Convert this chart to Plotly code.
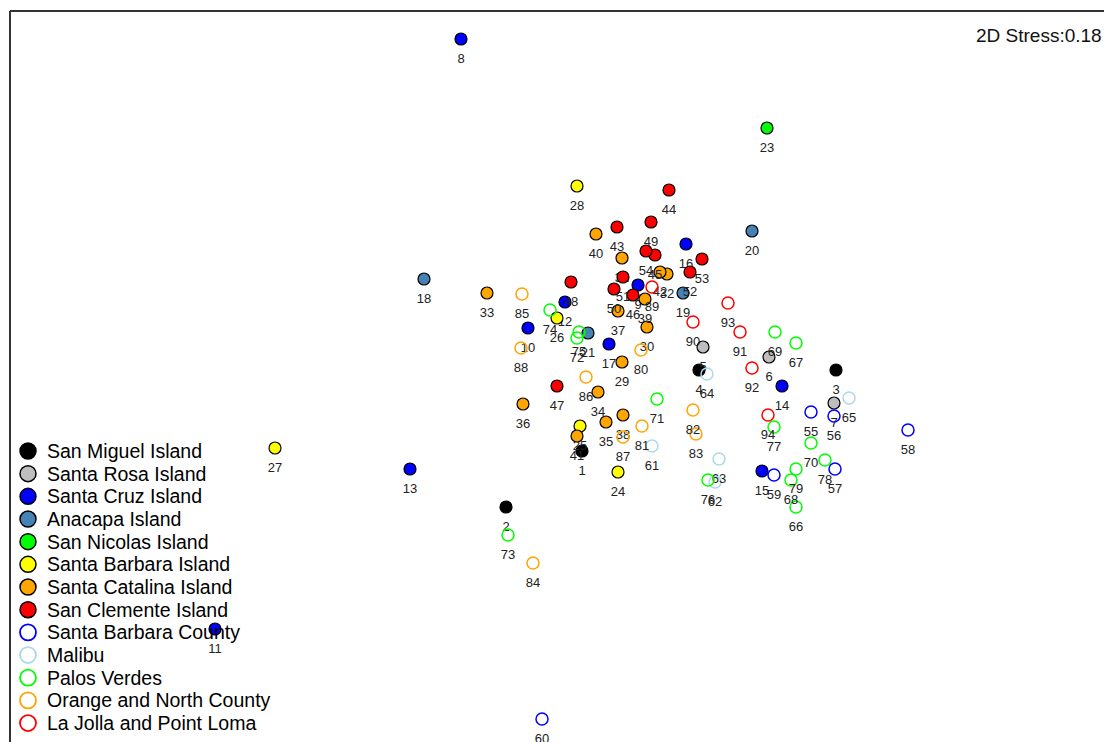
import plotly.graph_objects as go

# NMDS ordination of sampling sites (ordination coordinates, axis 2 increasing downward)
san_miguel_lbl = [1, 2, 3, 4]
san_miguel_x = [582, 506, 836, 699]
san_miguel_y = [451, 507, 370, 370]

santa_rosa_lbl = [5, 6, 7]
santa_rosa_x = [703, 769, 834]
santa_rosa_y = [347, 357, 403]

santa_cruz_lbl = [8, 9, 10, 11, 12, 13, 14, 15, 16, 17]
santa_cruz_x = [461, 638, 528, 215, 565, 410, 782, 762, 686, 609]
santa_cruz_y = [39, 285, 328, 629, 302, 469, 386, 471, 244, 344]

anacapa_lbl = [18, 19, 20, 21]
anacapa_x = [424, 683, 752, 588]
anacapa_y = [279, 293, 231, 333]

san_nicolas_lbl = [23]
san_nicolas_x = [767]
san_nicolas_y = [128]

sb_island_lbl = [24, 25, 26, 27, 28]
sb_island_x = [618, 580, 557, 275, 577]
sb_island_y = [472, 426, 318, 448, 186]

catalina_lbl = [29, 30, 31, 32, 33, 34, 35, 36, 37, 38, 39, 40, 41, 42]
catalina_x = [622, 647, 622, 667, 487, 598, 606, 523, 618, 623, 645, 596, 577, 660]
catalina_y = [362, 327, 258, 274, 293, 392, 422, 404, 311, 415, 299, 234, 436, 272]

clemente_lbl = [43, 44, 45, 46, 47, 48, 49, 50, 51, 52, 53, 54]
clemente_x = [617, 669, 655, 633, 557, 571, 651, 614, 623, 690, 702, 646]
clemente_y = [227, 190, 255, 295, 386, 282, 222, 289, 277, 272, 259, 251]

sb_county_lbl = [55, 56, 57, 58, 59, 60]
sb_county_x = [811, 834, 835, 908, 774, 542]
sb_county_y = [412, 416, 469, 430, 475, 719]

malibu_lbl = [61, 62, 63, 64, 65]
malibu_x = [652, 715, 719, 707, 849]
malibu_y = [446, 482, 459, 374, 398]

palos_lbl = [66, 67, 68, 69, 70, 71, 72, 73, 74, 75, 76, 77, 78, 79]
palos_x = [796, 796, 791, 775, 811, 657, 577, 508, 550, 579, 708, 774, 825, 796]
palos_y = [507, 343, 480, 332, 443, 399, 338, 535, 310, 332, 480, 427, 460, 469]

orange_nc_lbl = [80, 81, 82, 83, 84, 85, 86, 87, 88]
orange_nc_x = [641, 642, 693, 696, 533, 522, 586, 623, 521]
orange_nc_y = [350, 426, 410, 434, 563, 294, 377, 437, 348]

lajolla_lbl = [89, 90, 91, 92, 93, 94]
lajolla_x = [652, 693, 740, 752, 728, 768]
lajolla_y = [287, 322, 332, 368, 303, 415]

groups = [
    ("San Miguel Island", san_miguel_lbl, san_miguel_x, san_miguel_y, "#000000", True),
    ("Santa Rosa Island", santa_rosa_lbl, santa_rosa_x, santa_rosa_y, "#BEBEBE", True),
    ("Santa Cruz Island", santa_cruz_lbl, santa_cruz_x, santa_cruz_y, "#0000FF", True),
    ("Anacapa Island", anacapa_lbl, anacapa_x, anacapa_y, "#4682B4", True),
    ("San Nicolas Island", san_nicolas_lbl, san_nicolas_x, san_nicolas_y, "#00FF00", True),
    ("Santa Barbara Island", sb_island_lbl, sb_island_x, sb_island_y, "#FFFF00", True),
    ("Santa Catalina Island", catalina_lbl, catalina_x, catalina_y, "#FFA500", True),
    ("San Clemente Island", clemente_lbl, clemente_x, clemente_y, "#FF0000", True),
    ("Santa Barbara County", sb_county_lbl, sb_county_x, sb_county_y, "#0000FF", False),
    ("Malibu", malibu_lbl, malibu_x, malibu_y, "#ADD8E6", False),
    ("Palos Verdes", palos_lbl, palos_x, palos_y, "#00FF00", False),
    ("Orange and North County", orange_nc_lbl, orange_nc_x, orange_nc_y, "#FFA500", False),
    ("La Jolla and Point Loma", lajolla_lbl, lajolla_x, lajolla_y, "#FF0000", False),
]

FONT = "Arial, Liberation Sans, sans-serif"
W, H = 1104, 742

fig = go.Figure()

for name, lbl, xs, ys, col, filled in groups:
    if filled:
        mk = dict(symbol="circle", size=12, color=col, line=dict(color="#000000", width=1.2))
    else:
        mk = dict(symbol="circle-open", size=12, color=col, line=dict(width=1.5))
    fig.add_trace(go.Scatter(
        x=xs, y=ys, mode="markers", marker=mk, name=name,
        text=[str(v) for v in lbl], hoverinfo="text+name", showlegend=False,
    ))
    # sample numbers set a little below each point (invisible spacer marker)
    fig.add_trace(go.Scatter(
        x=xs, y=ys, mode="markers+text", text=[str(v) for v in lbl],
        textposition="bottom center",
        textfont=dict(family=FONT, size=13, color="#222222"),
        marker=dict(size=21, opacity=0), hoverinfo="skip", showlegend=False,
    ))

# hand-placed key in the lower-left corner
key_x, key_y0, key_dy, key_r = 28, 451, 22.67, 8
for i, (name, _, _, _, col, filled) in enumerate(groups):
    cy = key_y0 + i * key_dy
    fig.add_shape(
        type="circle", xref="paper", yref="paper",
        x0=(key_x - key_r) / W, x1=(key_x + key_r) / W,
        y0=1 - (cy + key_r) / H, y1=1 - (cy - key_r) / H,
        fillcolor=col if filled else "rgba(0,0,0,0)",
        line=dict(color="#000000" if filled else col, width=1.5 if filled else 1.8),
    )
    fig.add_annotation(
        text=name, xref="paper", yref="paper", x=45 / W, y=1 - cy / H,
        xanchor="left", yanchor="middle", showarrow=False,
        font=dict(family=FONT, size=19.5, color="#000000"),
    )

# partial frame (top and left edges)
fig.add_shape(type="line", xref="paper", yref="paper", x0=10 / W, x1=1.0,
              y0=1 - 11 / H, y1=1 - 11 / H, line=dict(color="#333333", width=2))
fig.add_shape(type="line", xref="paper", yref="paper", x0=10 / W, x1=10 / W,
              y0=0, y1=1 - 11 / H, line=dict(color="#333333", width=2))

fig.add_annotation(text="2D Stress:0.18", xref="paper", yref="paper", x=1.0, y=1 - 36 / H,
                   xanchor="right", yanchor="middle", showarrow=False,
                   font=dict(family=FONT, size=19, color="#111111"))

fig.update_layout(
    width=W, height=H,
    margin=dict(l=0, r=0, t=0, b=0),
    paper_bgcolor="white", plot_bgcolor="white",
    xaxis=dict(range=[0, W], visible=False, fixedrange=True),
    yaxis=dict(range=[H, 0], visible=False, fixedrange=True),
    showlegend=False,
)

fig.write_html("out.html")
